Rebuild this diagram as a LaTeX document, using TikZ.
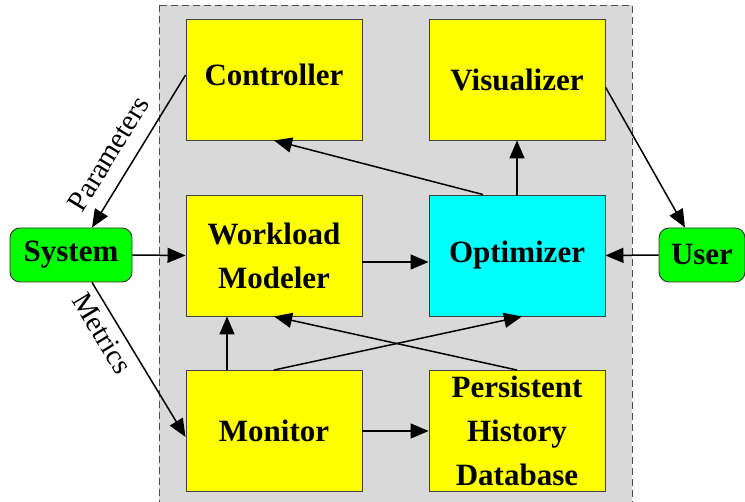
\documentclass[tikz,border=0pt]{standalone}
\usepackage{fontspec}
\setmainfont{Liberation Serif}
\usetikzlibrary{arrows.meta}

\definecolor{panelgray}{HTML}{D9D9D9}
\definecolor{boxyellow}{HTML}{FFFF00}
\definecolor{boxcyan}{HTML}{00FFFF}
\definecolor{extgreen}{HTML}{00FF00}

\tikzset{
  part/.style={draw=black!75, line width=0.9pt, fill=boxyellow,
    minimum width=176pt, minimum height=121pt, inner sep=0pt, align=center,
    font=\fontsize{31}{44}\selectfont\bfseries},
  outside/.style={draw=black!80, line width=0.9pt, fill=extgreen,
    rounded corners=10pt, minimum height=54pt, inner sep=0pt,
    font=\fontsize{31}{42}\selectfont\bfseries},
  flowlabel/.style={font=\fontsize{29}{34}\selectfont, sloped}
}

\begin{document}
\begin{tikzpicture}[x=1pt, y=-1pt, line width=1.5pt,
  >={Triangle[length=18pt, width=15pt]}]
  \useasboundingbox (0,0) rectangle (745,502);

  % the framework
  \draw[draw=black!70, line width=0.9pt, dash pattern=on 7pt off 4pt,
    fill=panelgray] (159,5) rectangle (632,504);

  \node (ctl) [part, text depth=10pt] at (274,79.5) {Controller};
  \node (vis) [part] at (517,79.5) {Visualizer};
  \node (wm) [part] at (274,255.5) {Workload\\Modeler};
  \node (opt) [part, fill=boxcyan] at (517,255.5) {Optimizer};
  \node (mon) [part] at (274,431) {Monitor};
  \node (hist) [part] at (517,431) {Persistent\\History\\Database};

  \node (sys) [outside, minimum width=122pt] at (71,255) {System};
  \node (usr) [outside, minimum width=86pt] at (702,255) {User};

  % outside world
  \draw[->] ([yshift=4.5pt]ctl.west) -- ([xshift=21pt]sys.north)
    node [flowlabel, pos=0.6, above, inner sep=14pt] {Parameters};
  \draw[->] ([xshift=21pt]sys.south) -- ([yshift=-6pt]mon.west)
    node [flowlabel, pos=0.27, below, inner sep=7pt] {Metrics};
  \draw[->] (sys.east) -- (wm.west);
  \draw[->] ([yshift=-7.5pt]vis.east) -- ([xshift=-17pt]usr.north);
  \draw[->] (usr.west) -- (opt.east);

  % inside the framework
  \draw[->] ([yshift=-6.5pt]wm.east) -- ([yshift=-6.5pt]opt.west);
  \draw[->] (opt.north) -- (vis.south);
  \draw[->] ([xshift=-34pt]opt.north) -- (ctl.south);
  \draw[->] ([xshift=-47pt]mon.north) -- ([xshift=-47pt]wm.south);
  \draw[->] (mon.north) -- ([xshift=5pt]opt.south);
  \draw[->] (hist.north) -- (wm.south);
  \draw[->] (mon.east) -- (hist.west);
\end{tikzpicture}
\end{document}
